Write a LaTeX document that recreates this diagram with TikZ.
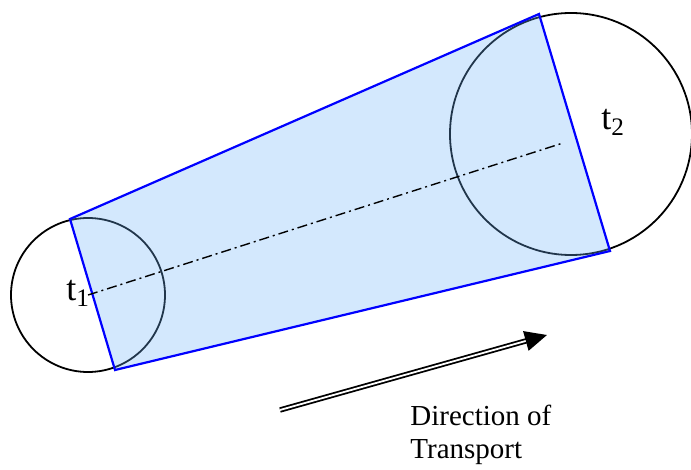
\documentclass[tikz,border=0pt]{standalone}
\usepackage{fontspec}
\setmainfont{Liberation Serif}
\usetikzlibrary{arrows.meta}
\definecolor{tubefill}{RGB}{110,180,250}

\begin{document}
\begin{tikzpicture}[x=0.5pt, y=-0.5pt,
    ring/.style={draw, black, line width=0.9pt},
    tube/.style={draw=blue, line width=1.1pt, fill=tubefill, fill opacity=0.3, line join=miter},
    axis/.style={draw, black, line width=0.7pt, dash pattern=on 5pt off 2pt on 1pt off 2pt},
    lbl/.style={font=\fontsize{18}{20}\selectfont, inner sep=0pt, anchor=base west},
    flow/.style={draw, black, double, double distance=0.9pt, line width=0.9pt, -{Triangle[length=11pt,width=10pt]}},
    note/.style={font=\fontsize{14.5}{16.5}\selectfont, align=left, inner sep=0pt, anchor=north west}]

\useasboundingbox (0,0) rectangle (691,470);

\coordinate (c1) at (88,295);
\coordinate (c2) at (571,134);
\coordinate (axend) at (563,143);
\coordinate (a1) at (70,219);
\coordinate (a2) at (539,14);
\coordinate (b2) at (610,251);
\coordinate (b1) at (115,370);
\coordinate (flow0) at (280,410);
\coordinate (flow1) at (547,335);

\draw [ring] (c1) circle [radius=77];
\draw [ring] (c2) circle [radius=121];
\draw [tube] (a1) -- (a2) -- (b2) -- (b1) -- cycle;
\draw [axis] (c1) -- (axend);

\node [lbl] (t1) at (66,301) {t\textsubscript{1}};
\node [lbl] (t2) at (601,130) {t\textsubscript{2}};

\draw [flow] (flow0) -- (flow1);
\node [note] (dirtxt) at (410,405) {Direction of\\Transport};

\end{tikzpicture}
\end{document}
